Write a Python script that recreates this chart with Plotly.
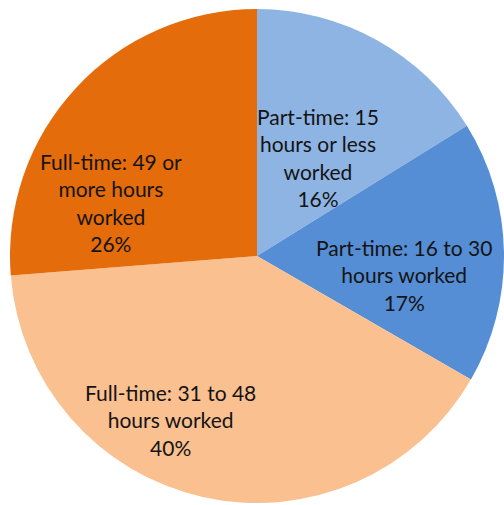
import math
import plotly.graph_objects as go

labels = [
    "Part-time: 15<br>hours or less<br>worked",
    "Part-time: 16 to 30<br>hours worked",
    "Full-time: 31 to 48<br>hours worked",
    "Full-time: 49 or<br>more hours<br>worked",
]
values = [16, 17, 40, 26]
colors = ["#8EB4E3", "#558ED5", "#FAC090", "#E46C0A"]

# label placement (style): angle offset from slice middle (deg), radius fraction
label_angle_offset = [2.5, 8.2, 15.0, -22.7]
label_radius_frac = [0.47, 0.60, 0.75, 0.63]

W, H = 504, 505
dom_x = [10 / W, 1.0]
dom_y = [1 - 504 / H, 1 - 8 / H]

fig = go.Figure(go.Pie(
    labels=labels,
    values=values,
    marker=dict(colors=colors, line=dict(width=0)),
    sort=False,
    direction="clockwise",
    rotation=0,
    textinfo="none",
    hoverinfo="label+percent",
    showlegend=False,
    domain=dict(x=dom_x, y=dom_y),
))

# geometry of pie in pixels
wpx = (dom_x[1] - dom_x[0]) * W
hpx = (dom_y[1] - dom_y[0]) * H
R = min(wpx, hpx) / 2
cx = (dom_x[0] + dom_x[1]) / 2 * W
cy = (1 - (dom_y[0] + dom_y[1]) / 2) * H

total = sum(values)
cum = 0
annotations = []
for lab, v, off, fr in zip(labels, values, label_angle_offset, label_radius_frac):
    mid = (cum + v / 2) / total * 360 + off
    cum += v
    a = math.radians(mid)
    px = cx + fr * R * math.sin(a)
    py = cy - fr * R * math.cos(a)
    pct = round(v / total * 100)
    annotations.append(dict(
        x=px / W, y=1 - py / H, xref="paper", yref="paper",
        text=f"{lab}<br>{pct}%", showarrow=False,
        xanchor="center", yanchor="middle", align="center",
        font=dict(family="Lato", size=21, color="#141414"),
    ))

fig.update_layout(
    width=W, height=H,
    margin=dict(l=0, r=0, t=0, b=0),
    paper_bgcolor="white",
    plot_bgcolor="white",
    annotations=annotations,
)

fig.write_html(
    "out.html",
    config={"displayModeBar": False},
    post_script="document.body.style.margin='0';document.body.style.padding='0';",
)
